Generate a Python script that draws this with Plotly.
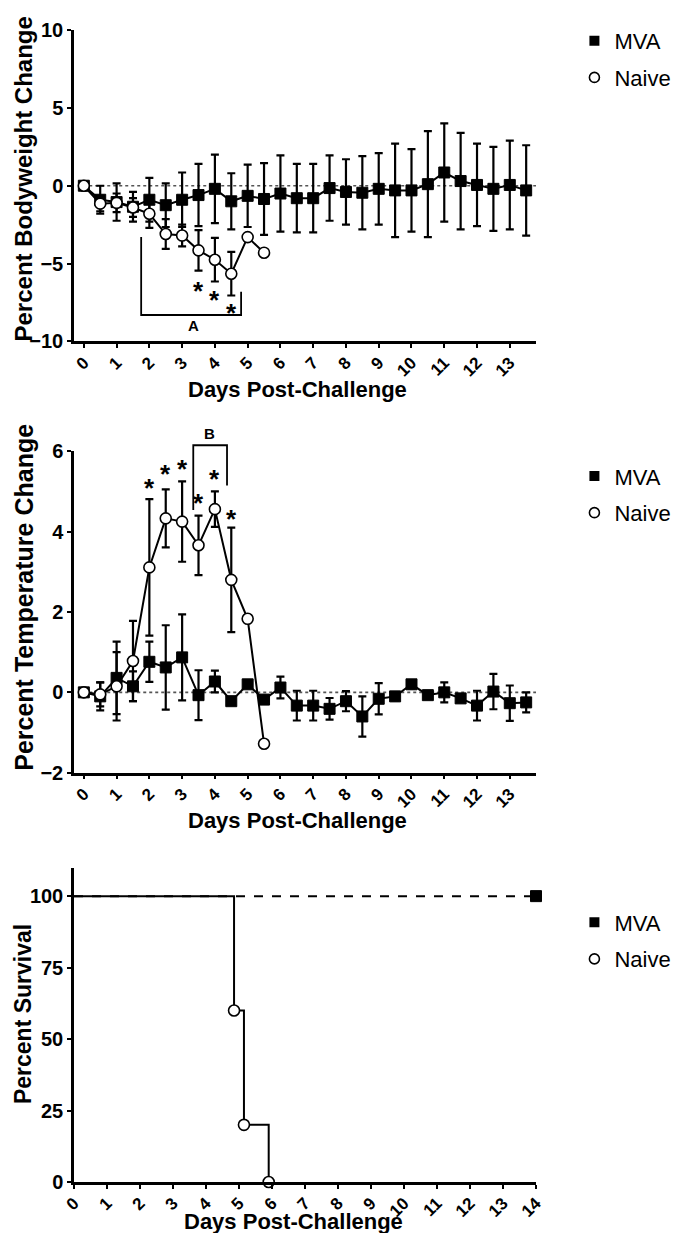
import plotly.graph_objects as go

# ---------------- data ----------------
days = [0, 0.5, 1, 1.5, 2, 2.5, 3, 3.5, 4, 4.5, 5, 5.5, 6, 6.5, 7, 7.5, 8, 8.5,
        9, 9.5, 10, 10.5, 11, 11.5, 12, 12.5, 13, 13.5]
days_naive = [0, 0.5, 1, 1.5, 2, 2.5, 3, 3.5, 4, 4.5, 5, 5.5]

weight_mva = [0, -0.9, -1.05, -1.35, -0.9, -1.25, -0.9, -0.6, -0.2, -1.0, -0.65, -0.85,
              -0.5, -0.8, -0.8, -0.15, -0.4, -0.45, -0.2, -0.3, -0.3, 0.1, 0.85, 0.3,
              0.05, -0.2, 0.05, -0.3]
weight_mva_err = [0, 0.9, 1.2, 0.95, 1.4, 1.4, 1.75, 2.0, 2.2, 1.8, 2.0, 2.3, 2.45, 2.2,
                  2.2, 2.1, 2.1, 2.35, 2.3, 3.0, 2.65, 3.4, 3.15, 3.1, 2.65, 2.7, 2.85, 2.9]
weight_naive = [0, -1.15, -1.1, -1.4, -1.8, -3.1, -3.2, -4.15, -4.75, -5.65, -3.3, -4.3]
weight_naive_err = [0, 0.5, 0.6, 0.6, 0.9, 0.95, 0.7, 1.3, 1.4, 1.4, 0, 0]

temp_mva = [0, -0.1, 0.36, 0.15, 0.76, 0.62, 0.87, -0.07, 0.27, -0.22, 0.2, -0.18, 0.12,
            -0.33, -0.33, -0.41, -0.22, -0.6, -0.16, -0.1, 0.2, -0.07, 0.0, -0.15, -0.33,
            0.02, -0.27, -0.25]
temp_mva_err = [0, 0.35, 0.9, 0.37, 0.5, 1.05, 1.07, 0.62, 0.27, 0.06, 0.08, 0.06, 0.27,
                0.37, 0.37, 0.27, 0.25, 0.5, 0.39, 0.1, 0.1, 0.08, 0.25, 0.08, 0.37, 0.44,
                0.44, 0.25]
temp_naive = [0, -0.05, 0.15, 0.78, 3.11, 4.33, 4.25, 3.66, 4.56, 2.8, 1.83, -1.28]
temp_naive_err = [0, 0.3, 0.85, 1.0, 1.7, 0.72, 1.0, 0.74, 0.44, 1.3, 0, 0]

surv_days_mva = [0, 14]
surv_mva = [100, 100]
surv_end_day = [14]
surv_end_mva = [100]
surv_days_naive = [0, 4.85, 5.15, 5.9]
surv_naive = [100, 60, 20, 0]
surv_event_days = [4.85, 5.15, 5.9]
surv_event_naive = [60, 20, 0]

weight_star_days = [3.5, 4, 4.5]
weight_star_y = [-6.3, -6.9, -7.7]
temp_star_days = [2, 2.5, 3, 3.5, 4, 4.5]
temp_star_y = [5.27, 5.6, 5.73, 4.88, 5.48, 4.5]

tick_days_13 = [0, 1, 2, 3, 4, 5, 6, 7, 8, 9, 10, 11, 12, 13]
tick_days_14 = [0, 1, 2, 3, 4, 5, 6, 7, 8, 9, 10, 11, 12, 13, 14]

# ---------------- layout constants ----------------
FONT = "Liberation Sans, Arial, sans-serif"
W, H = 680, 1233
ML, MR, MT, MB = 66, 145, 20, 59
PLOT_W = W - ML - MR
PLOT_H = H - MT - MB
X_RANGE = [-0.3, 13.8]


def py_paper(p):
    """pixel row -> paper y"""
    return (H - MB - p) / PLOT_H


def px_paper(p):
    """pixel column -> paper x"""
    return (p - ML) / PLOT_W


DOM1 = [py_paper(332), 1.0]
DOM2 = [py_paper(764), py_paper(442)]
DOM3 = [0.0, py_paper(859)]
YR1, YR2, YR3 = [-10, 10], [-2, 6], [0, 110]


def to_paper(v, rng, dom):
    return dom[0] + (v - rng[0]) / (rng[1] - rng[0]) * (dom[1] - dom[0])


fig = go.Figure()


def err(arr):
    return dict(type="data", array=arr, visible=True, color="black",
                thickness=2.2, width=4)


sq = dict(symbol="square", size=11, color="black", line=dict(color="black", width=1))
ci = dict(symbol="circle", size=11, color="white", line=dict(color="black", width=1.6))
black_line = dict(color="black", width=2)

# panel 1
fig.add_trace(go.Scatter(x=days, y=weight_mva, error_y=err(weight_mva_err), mode="lines+markers",
                         marker=sq, line=black_line, xaxis="x", yaxis="y", showlegend=False))
fig.add_trace(go.Scatter(x=days_naive, y=weight_naive, error_y=err(weight_naive_err),
                         mode="lines+markers", marker=ci, line=black_line,
                         xaxis="x", yaxis="y", showlegend=False))
# panel 2
fig.add_trace(go.Scatter(x=days, y=temp_mva, error_y=err(temp_mva_err), mode="lines+markers",
                         marker=sq, line=black_line, xaxis="x2", yaxis="y2", showlegend=False))
fig.add_trace(go.Scatter(x=days_naive, y=temp_naive, error_y=err(temp_naive_err),
                         mode="lines+markers", marker=ci, line=black_line,
                         xaxis="x2", yaxis="y2", showlegend=False))
# panel 3
fig.add_trace(go.Scatter(x=surv_days_mva, y=surv_mva, mode="lines",
                         line=dict(color="black", width=2, dash="dash"), xaxis="x3", yaxis="y3",
                         showlegend=False))
fig.add_trace(go.Scatter(x=surv_end_day, y=surv_end_mva, mode="markers", marker=sq,
                         xaxis="x3", yaxis="y3", showlegend=False, cliponaxis=False))
fig.add_trace(go.Scatter(x=surv_days_naive, y=surv_naive, mode="lines",
                         line=dict(color="black", width=2, shape="hv"), xaxis="x3", yaxis="y3",
                         showlegend=False))
fig.add_trace(go.Scatter(x=surv_event_days, y=surv_event_naive, mode="markers", marker=ci,
                         xaxis="x3", yaxis="y3", showlegend=False, cliponaxis=False))

# legends
for i, (lg, xa, ya) in enumerate([("legend", "x", "y"), ("legend2", "x2", "y2"), ("legend3", "x3", "y3")]):
    fig.add_trace(go.Scatter(x=[None], y=[None], mode="markers", name="MVA",
                             marker=dict(symbol="square", size=10, color="black"),
                             legend=lg, legendgroup=f"m{i}", xaxis=xa, yaxis=ya))
    fig.add_trace(go.Scatter(x=[None], y=[None], mode="markers", name="Naive",
                             marker=dict(symbol="circle-open", size=10, color="black",
                                         line=dict(width=1.6)),
                             legend=lg, legendgroup=f"n{i}", xaxis=xa, yaxis=ya))

legend_style = dict(font=dict(family=FONT, size=22, color="black"), bgcolor="rgba(0,0,0,0)",
                    tracegroupgap=5, itemwidth=30, xanchor="left", yanchor="top",
                    x=px_paper(574))

tickfont_x = dict(family=FONT, size=17, color="black", weight="bold")
tickfont_y = dict(family=FONT, size=20, color="black", weight="bold")


def xaxis(anchor, rng, ticks):
    return dict(anchor=anchor, range=rng, domain=[0, 1], tickvals=ticks,
                ticktext=[str(t) for t in ticks], tickangle=-45, showline=True, linewidth=2.5,
                linecolor="black", ticks="outside", ticklen=4, tickwidth=2, tickcolor="black",
                showgrid=False, zeroline=False, tickfont=tickfont_x, automargin=False,
                ticklabelstandoff=-2)


def yaxis(anchor, rng, dom, ticks):
    return dict(anchor=anchor, range=rng, domain=dom, tickvals=ticks, showline=True, linewidth=2.5,
                linecolor="black", ticks="outside", ticklen=4, tickwidth=2, tickcolor="black",
                showgrid=False, zeroline=False, tickfont=tickfont_y, automargin=False)


fig.update_layout(
    width=W, height=H, margin=dict(l=ML, r=MR, t=MT, b=MB),
    paper_bgcolor="white", plot_bgcolor="white",
    font=dict(family=FONT, color="black"),
    xaxis=xaxis("y", X_RANGE, tick_days_13),
    yaxis=yaxis("x", YR1, DOM1, [-10, -5, 0, 5, 10]),
    xaxis2=xaxis("y2", X_RANGE, tick_days_13),
    yaxis2=yaxis("x2", YR2, DOM2, [-2, 0, 2, 4, 6]),
    xaxis3=xaxis("y3", [0, 14], tick_days_14),
    yaxis3=yaxis("x3", YR3, DOM3, [0, 25, 50, 75, 100]),
    legend=dict(legend_style, y=py_paper(10)),
    legend2=dict(legend_style, y=py_paper(446)),
    legend3=dict(legend_style, y=py_paper(893)),
    showlegend=True,
)

shapes = []
# dotted zero lines
for xr, yr in [("x domain", "y"), ("x2 domain", "y2")]:
    shapes.append(dict(type="line", xref=xr, yref=yr, x0=0.02, x1=1, y0=0, y1=0,
                       line=dict(color="#555555", width=1.6, dash="dot"), layer="below"))
# bracket A
shapes.append(dict(type="path", xref="x", yref="y",
                   path="M 1.75,-3.3 L 1.75,-8.3 L 4.8,-8.3 L 4.8,-6.8",
                   line=dict(color="black", width=1.8)))
# bracket B (extends above the axis)
bx0, bx1 = 3.34, 4.37
shapes.append(dict(type="path", xref="x2", yref="paper",
                   path=(f"M {bx0},{to_paper(4.54, YR2, DOM2)} L {bx0},{to_paper(6.15, YR2, DOM2)} "
                         f"L {bx1},{to_paper(6.15, YR2, DOM2)} L {bx1},{to_paper(5.15, YR2, DOM2)}"),
                   line=dict(color="black", width=1.8)))
fig.update_layout(shapes=shapes)

ann = []
starfont = dict(family=FONT, size=26, color="black", weight="bold")
for d, yv in zip(weight_star_days, weight_star_y):
    ann.append(dict(x=d, y=yv, xref="x", yref="y", text="*", showarrow=False, font=starfont,
                    yshift=-7))
for d, yv in zip(temp_star_days, temp_star_y):
    ann.append(dict(x=d, y=yv, xref="x2", yref="y2", text="*", showarrow=False, font=starfont,
                    yshift=-7))
ann.append(dict(x=3.35, y=-9.0, xref="x", yref="y", text="A", showarrow=False,
                font=dict(family=FONT, size=15, color="black", weight="bold")))
ann.append(dict(x=3.85, y=to_paper(6.45, YR2, DOM2), xref="x2", yref="paper", text="B",
                showarrow=False, font=dict(family=FONT, size=15, color="black", weight="bold")))

# axis titles
xtitle_font = dict(family=FONT, size=22, color="black", weight="bold")
for xc, yc in [(293, 380), (293, 812), (289, 1214)]:
    ann.append(dict(x=px_paper(xc), y=py_paper(yc), xref="paper", yref="paper",
                    text="Days Post-Challenge", showarrow=False, font=xtitle_font,
                    xanchor="center", yanchor="middle"))
for text, yc, size in [("Percent Bodyweight Change", 169, 24),
                       ("Percent Temperature Change", 588, 25),
                       ("Percent Survival", 1006, 23)]:
    ann.append(dict(x=px_paper(15), y=py_paper(yc), xref="paper", yref="paper", text=text,
                    textangle=-90, showarrow=False, xanchor="center", yanchor="middle",
                    font=dict(family=FONT, size=size, color="black", weight="bold")))
fig.update_layout(annotations=ann)

fig.write_html("out.html")
